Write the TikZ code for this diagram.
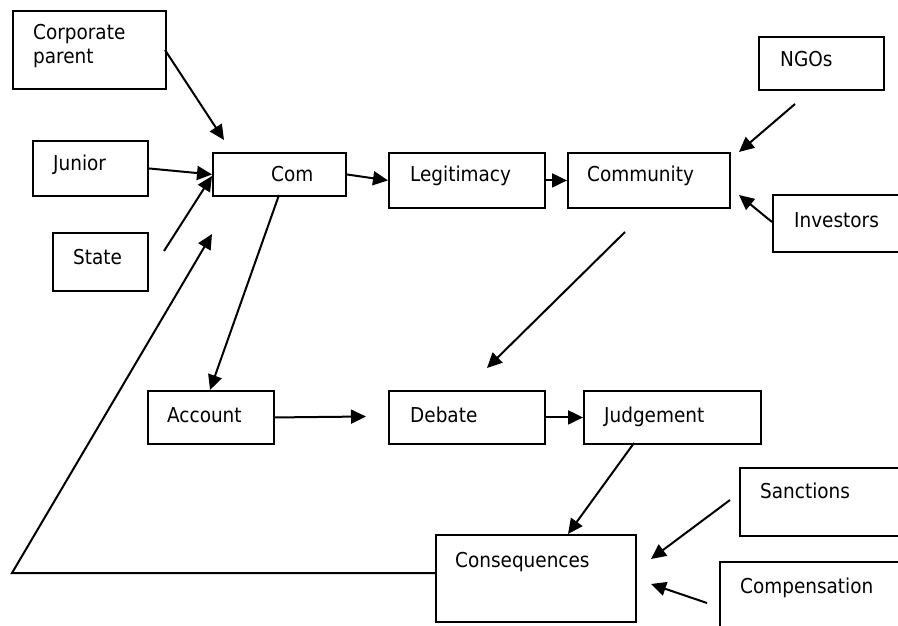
\documentclass[tikz,border=0pt]{standalone}
\usepackage{fontspec}
\setmainfont{DejaVu Sans Condensed}
\usetikzlibrary{arrows.meta}
\tikzset{
  box/.style={draw, line width=1.9pt, rectangle, inner sep=0pt, anchor=north west},
  lbl/.style={anchor=base west, inner sep=0pt, font=\fontsize{20.5}{24}\selectfont},
  arr/.style={line width=2pt, -{Triangle[length=15pt,width=14pt]}},
  ln/.style={line width=2pt}
}
\begin{document}
\begin{tikzpicture}[x=1pt,y=-1pt]
\clip (0,0) rectangle (898,626);
\fill[white] (0,0) rectangle (898,626);
% boxes
\node[box, minimum width=153pt, minimum height=78pt] (corp) at (12,10) {};
\node[box, minimum width=115pt, minimum height=55pt] (junior) at (32,140) {};
\node[box, minimum width=95pt, minimum height=58pt] (state) at (52,232) {};
\node[box, minimum width=133pt, minimum height=43pt] (com) at (212,152) {};
\node[box, minimum width=156pt, minimum height=55pt] (legit) at (388,152) {};
\node[box, minimum width=162pt, minimum height=55pt] (commu) at (567,152) {};
\node[box, minimum width=125pt, minimum height=53pt] (ngos) at (758,36) {};
\node[box, minimum width=148pt, minimum height=57pt] (invest) at (772,194) {};
\node[box, minimum width=126pt, minimum height=53pt] (account) at (147,390) {};
\node[box, minimum width=156pt, minimum height=53pt] (debate) at (388,390) {};
\node[box, minimum width=177pt, minimum height=53pt] (judge) at (583,390) {};
\node[box, minimum width=200pt, minimum height=87pt] (conseq) at (435,534) {};
\node[box, minimum width=181pt, minimum height=68pt] (sanct) at (739,467) {};
\node[box, minimum width=201pt, minimum height=89pt] (comp) at (719,561) {};
% labels
\node[lbl] (tcorp1) at (33,40) {Corporate};
\node[lbl] (tcorp2) at (33,64) {parent};
\node[lbl] (tjun) at (53,170) {Junior};
\node[lbl] (tstate) at (73,264) {State};
\node[lbl] (tcom) at (271,182) {Com};
\node[lbl] (tlegit) at (410,182) {Legitimacy};
\node[lbl] (tcommu) at (587,182) {Community};
\node[lbl] (tngos) at (780,67) {NGOs};
\node[lbl] (tinv) at (794,227) {Investors};
\node[lbl] (tacc) at (167,422) {Account};
\node[lbl] (tdeb) at (410,422) {Debate};
\node[lbl] (tjudge) at (604,422) {Judgement};
\node[lbl] (tcons) at (455,567) {Consequences};
\node[lbl] (tsanc) at (760,498) {Sanctions};
\node[lbl] (tcomp) at (740,593) {Compensation};
% free-end coordinates
\coordinate (corpOut) at (165,50);
\coordinate (corpIn) at (224,140);
\coordinate (stateOut) at (164,251);
\coordinate (stateIn) at (212,176);
\coordinate (loopCorner) at (12,573);
\coordinate (loopIn) at (212,234);
\coordinate (comOut) at (279,195);
\coordinate (accIn) at (210,390);
\coordinate (ngosOut) at (795,104);
\coordinate (ngosIn) at (739,152);
\coordinate (invOut) at (772,222);
\coordinate (invIn) at (739,195);
\coordinate (commuOut) at (625,232);
\coordinate (debIn) at (487,368);
\coordinate (accToDeb) at (366,416.5);
\coordinate (judgeOut) at (634,443);
\coordinate (consIn) at (568,534);
\coordinate (sancOut) at (730,500);
\coordinate (sancIn) at (651,559);
\coordinate (compOut) at (707,603);
\coordinate (compIn) at (651,584);
% connectors
\draw[arr] (corpOut) -- (corpIn);
\draw[arr] (junior.east) -- (com.west);
\draw[arr] (stateOut) -- (stateIn);
\draw[arr] (conseq.west |- loopCorner) -- (loopCorner) -- (loopIn);
\draw[arr] (comOut) -- (accIn);
\draw[arr] (com.east) -- (legit.west);
\draw[arr] (legit.east) -- (commu.west);
\draw[arr] (ngosOut) -- (ngosIn);
\draw[arr] (invOut) -- (invIn);
\draw[arr] (commuOut) -- (debIn);
\draw[arr] (account.east) -- (accToDeb);
\draw[arr] (debate.east) -- (judge.west);
\draw[arr] (judgeOut) -- (consIn);
\draw[arr] (sancOut) -- (sancIn);
\draw[arr] (compOut) -- (compIn);
\end{tikzpicture}
\end{document}
